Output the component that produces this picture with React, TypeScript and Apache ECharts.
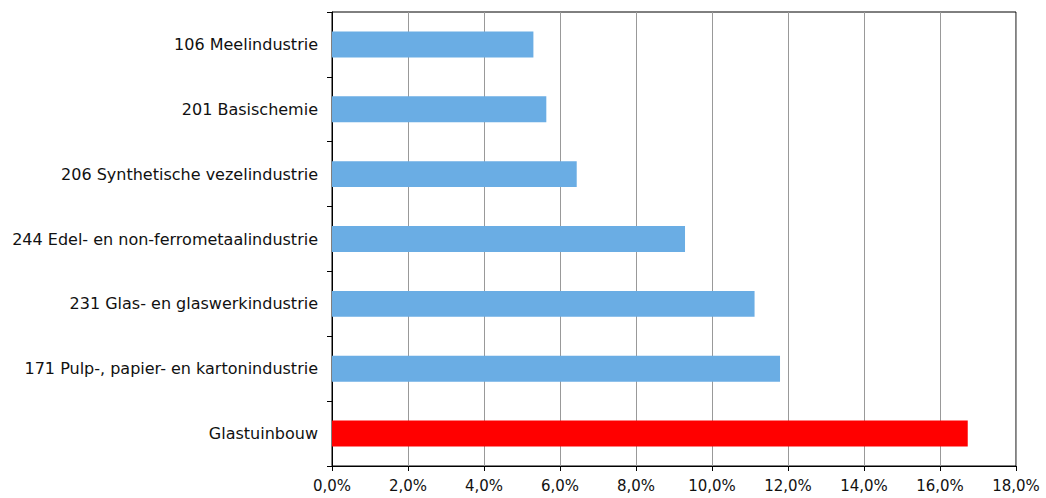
import React, { useEffect, useRef } from "react";
import * as echarts from "echarts";

const categories = [
  "Glastuinbouw",
  "171 Pulp-, papier- en kartonindustrie",
  "231 Glas- en glaswerkindustrie",
  "244 Edel- en non-ferrometaalindustrie",
  "206 Synthetische vezelindustrie",
  "201 Basischemie",
  "106 Meelindustrie",
];
const values = [16.73, 11.79, 11.12, 9.29, 6.44, 5.64, 5.3];
const barColors = ["#FF0000", "#6AADE4", "#6AADE4", "#6AADE4", "#6AADE4", "#6AADE4", "#6AADE4"];

export default function App() {
  const ref = useRef<HTMLDivElement>(null);
  useEffect(() => {
    if (!ref.current) return;
    const chart = echarts.init(ref.current, null, { renderer: "svg" });
    const font = "DejaVu Sans, Verdana, sans-serif";
    chart.setOption({
      animation: false,
      grid: {
        left: 332,
        right: 30,
        top: 12,
        bottom: 32,
        show: true,
        borderColor: "#000",
        borderWidth: 1,
        backgroundColor: "transparent",
      },
      xAxis: {
        type: "value",
        min: 0,
        max: 18,
        interval: 2,
        axisLine: { show: true, lineStyle: { color: "#000", width: 1 } },
        axisTick: { show: true, length: 5, lineStyle: { color: "#000" } },
        axisLabel: {
          color: "#111",
          fontFamily: font,
          fontSize: 15,
          margin: 12,
          formatter: (v: number) => v.toFixed(1).replace(".", ",") + "%",
        },
        splitLine: { show: true, lineStyle: { color: "#999", width: 1 } },
      },
      yAxis: {
        type: "category",
        data: categories,
        axisLine: { show: true, lineStyle: { color: "#000", width: 1 } },
        axisTick: { show: true, length: 5, alignWithLabel: false, lineStyle: { color: "#000" } },
        axisLabel: { color: "#111", fontFamily: font, fontSize: 16, margin: 14 },
        splitLine: { show: false },
      },
      series: [
        {
          type: "bar",
          data: values.map((v, i) => ({ value: v, itemStyle: { color: barColors[i] } })),
          barCategoryGap: "60%",
        },
      ],
    });
    return () => chart.dispose();
  }, []);
  return (
    <div
      ref={ref}
      style={{ position: "fixed", left: 0, top: 0, width: 1046, height: 498, background: "#fff" }}
    />
  );
}
